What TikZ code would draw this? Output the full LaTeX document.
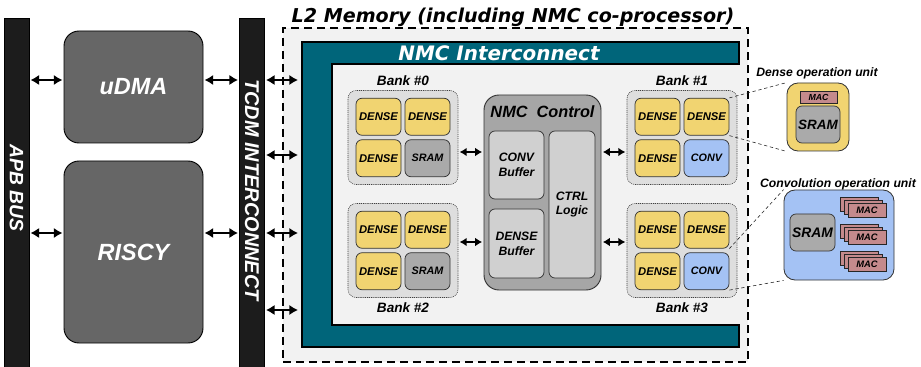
\documentclass[tikz,border=0pt]{standalone}
\usepackage{fontspec}
\setsansfont{Liberation Sans}
\newfontfamily\widefont{DejaVu Sans}
\usetikzlibrary{arrows.meta,positioning}
\definecolor{busgray}{HTML}{1C1C1C}
\definecolor{coregray}{HTML}{666666}
\definecolor{l2fill}{HTML}{F2F2F2}
\definecolor{nmcteal}{HTML}{00657A}
\definecolor{bankgray}{HTML}{DEDEDE}
\definecolor{denseyellow}{HTML}{F1D471}
\definecolor{sramgray}{HTML}{AAAAAA}
\definecolor{convblue}{HTML}{A4C2F4}
\definecolor{ctrlgray}{HTML}{A6A6A6}
\definecolor{bufgray}{HTML}{D0D0D0}
\definecolor{macpink}{HTML}{C48A8C}
\newcommand{\boldsf}[1]{\sffamily\bfseries\itshape\fontsize{#1}{1.2\dimexpr#1pt\relax}\selectfont}
\tikzset{
  link/.style={{Latex[length=2.6mm,width=3.1mm]}-{Latex[length=2.6mm,width=3.1mm]}, line width=1.9pt, shorten <=0.3mm, shorten >=0.3mm},
  smalllink/.style={{Latex[length=2.1mm,width=2.6mm]}-{Latex[length=2.1mm,width=2.6mm]}, line width=1.5pt, shorten <=0.4mm, shorten >=0.4mm},
  bus/.style={fill=busgray, draw=black, minimum width=7.6mm, minimum height=104.7mm, inner sep=0},
  bustext/.style={text=white, rotate=-90, inner sep=0, font=\boldsf{16.5}},
  core/.style={fill=coregray, draw=black, line width=0.8pt, rounded corners=4.5mm, minimum width=41.7mm, text=white, font=\boldsf{20}},
  l2box/.style={fill=l2fill, draw=black, line width=0.9pt, dash pattern=on 2.4mm off 1.5mm, minimum width=139.5mm, minimum height=100.2mm},
  frame/.style={fill=nmcteal, draw=black, line width=1.2pt},
  bank/.style={fill=bankgray, draw=black!75, line width=0.5pt, dash pattern=on 0.8pt off 0.8pt, rounded corners=2.4mm, minimum width=33mm, minimum height=28.2mm},
  cell/.style={draw=black!80, line width=0.6pt, rounded corners=1.8mm, minimum width=13.5mm, minimum height=11.1mm, inner sep=0, font=\boldsf{9.6}},
  dense/.style={fill=denseyellow},
  sram/.style={fill=sramgray},
  conv/.style={fill=convblue},
  banklabel/.style={inner sep=0, font=\boldsf{11.6}},
  ctrl/.style={fill=ctrlgray, draw=black!80, line width=0.8pt, rounded corners=4.5mm, minimum width=35.1mm, minimum height=58.5mm},
  buffer/.style={fill=bufgray, draw=black!80, line width=0.6pt, rounded corners=1.8mm, align=center, inner sep=0, font=\boldsf{10.4}},
  unit/.style={draw=black!80, line width=0.7pt, rounded corners=3.3mm},
  unitlabel/.style={inner sep=0, anchor=base, font=\boldsf{10.4}},
  mac/.style={fill=macpink, draw=black!85, line width=0.6pt, minimum width=11.4mm, minimum height=4.2mm, inner sep=0, font=\boldsf{8}},
  zoomline/.style={draw=black!85, line width=0.5pt, dash pattern=on 1mm off 0.8mm}
}

\begin{document}
\begin{tikzpicture}[x=0.3mm, y=-0.3mm]
  \useasboundingbox (0,0) rectangle (921,367);
  \coordinate (row1) at (0,80);
  \coordinate (row2) at (0,155);
  \coordinate (row3) at (0,233);
  \coordinate (row4) at (0,310);

  % L2 memory and NMC interconnect
  \node[l2box] (l2) at (515.5,195) {};
  \node[anchor=base, inner sep=0, font=\widefont\bfseries\itshape\fontsize{16.3}{19}\selectfont] (l2title) at (513,23) {L2 Memory (including NMC co-processor)};
  \filldraw[frame] (302,42) -| (739,64) -| (332,325) -| (739,347) -| cycle;
  \coordinate (framein) at (302,42);
  \node[anchor=base, inner sep=0, text=white, font=\widefont\bfseries\itshape\fontsize{17}{20}\selectfont] (nmctitle) at (499,61) {NMC Interconnect};

  % buses and cores
  \node[bus] (apb) at (16.5,192.5) {};
  \node[bustext] (apblabel) at (16.5,188) {APB BUS};
  \node[bus] (tcdm) at (252,192.5) {};
  \node[bustext, font=\boldsf{17}] (tcdmlabel) at (252,190) {TCDM INTERCONNECT};
  \node[core, minimum height=33.6mm] (udma) at (133.5,87) {uDMA};
  \node[core, minimum height=54.6mm] (riscy) at (133.5,252) {RISCY};
  \draw[link] (apb.east |- row1) -- (udma.west |- row1);
  \draw[link] (apb.east |- row3) -- (riscy.west |- row3);
  \draw[link] (udma.east |- row1) -- (tcdm.west |- row1);
  \draw[link] (riscy.east |- row3) -- (tcdm.west |- row3);
  \foreach \r in {row1,row2,row3,row4}
    \draw[link, shorten >=1.2mm] (tcdm.east |- \r) -- (framein |- \r);

  % memory banks
  \foreach \n/\x/\y/\kind/\txt in {0/403/137.5/sram/SRAM, 1/682/137.5/conv/CONV, 2/403/250.5/sram/SRAM, 3/682/250.5/conv/CONV} {
    \node[bank] (bank\n) at (\x,\y) {};
    \node[cell, dense] (bank\n-a) at ([shift={(-24.5,-20.75)}]bank\n) {DENSE};
    \node[cell, dense] (bank\n-b) at ([shift={(24.5,-20.75)}]bank\n) {DENSE};
    \node[cell, dense] (bank\n-c) at ([shift={(-24.5,20.75)}]bank\n) {DENSE};
    \node[cell, \kind, font=\boldsf{9.2}] (bank\n-d) at ([shift={(24.5,20.75)}]bank\n) {\txt};
  }
  \node[banklabel, above=1.2mm of bank0] (bank0label) {Bank \#0};
  \node[banklabel, above=1.2mm of bank1] (bank1label) {Bank \#1};
  \node[banklabel, below=1.5mm of bank2] (bank2label) {Bank \#2};
  \node[banklabel, below=1.5mm of bank3] (bank3label) {Bank \#3};

  % NMC control
  \node[ctrl] (ctrl) at (542.5,192.5) {};
  \node[anchor=base, inner sep=0, font=\boldsf{13.9}] (ctrltitle) at (542.5,118) {NMC\ \ Control};
  \node[buffer, minimum width=16.5mm, minimum height=20.4mm] (convbuf) at (516.5,165) {CONV\\Buffer};
  \node[buffer, minimum width=16.5mm, minimum height=20.7mm] (densebuf) at (516.5,243.5) {DENSE\\Buffer};
  \node[buffer, minimum width=13.8mm, minimum height=44.1mm] (ctrllogic) at (572,204.5) {CTRL\\Logic};
  \coordinate (upper) at (0,152);
  \coordinate (lower) at (0,242);
  \draw[smalllink] (bank0.east |- upper) -- (ctrl.west |- upper);
  \draw[smalllink] (ctrl.east |- upper) -- (bank1.west |- upper);
  \draw[smalllink] (bank2.east |- lower) -- (ctrl.west |- lower);
  \draw[smalllink] (ctrl.east |- lower) -- (bank3.west |- lower);

  % operation units
  \node[unit, fill=denseyellow, minimum width=18.6mm, minimum height=20.4mm] (dunit) at (818,117) {};
  \node[mac, minimum width=11.1mm, minimum height=3.6mm, font=\boldsf{7.5}] (dmac) at (818.5,97) {MAC};
  \node[cell, sram, minimum width=13.2mm, font=\boldsf{11.5}] (dsram) at (818,124.5) {SRAM};
  \node[unitlabel] (dlabel) at (817,77) {Dense operation unit};
  \node[unit, fill=convblue, minimum width=33mm, minimum height=27mm] (cunit) at (839,235) {};
  \node[cell, sram, font=\boldsf{11.8}] (csram) at (812.5,232.5) {SRAM};
  \foreach \i/\y in {1/210,2/237,3/264} {
    \node[mac] (mac\i c) at (859,\y-6) {};
    \node[mac] (mac\i b) at (863,\y-3) {};
    \node[mac] (mac\i a) at (867,\y) {MAC};
  }
  \node[unitlabel] (clabel) at (838,188) {Convolution operation unit};
  \draw[zoomline] (bank1-b.north east) -- (dunit.north west);
  \draw[zoomline] (bank1-b.south east) -- (dunit.south west);
  \draw[zoomline] (bank3-b.south east) -- (cunit.north west);
  \draw[zoomline] (bank3-d.south east) -- (cunit.south west);
\end{tikzpicture}
\end{document}
